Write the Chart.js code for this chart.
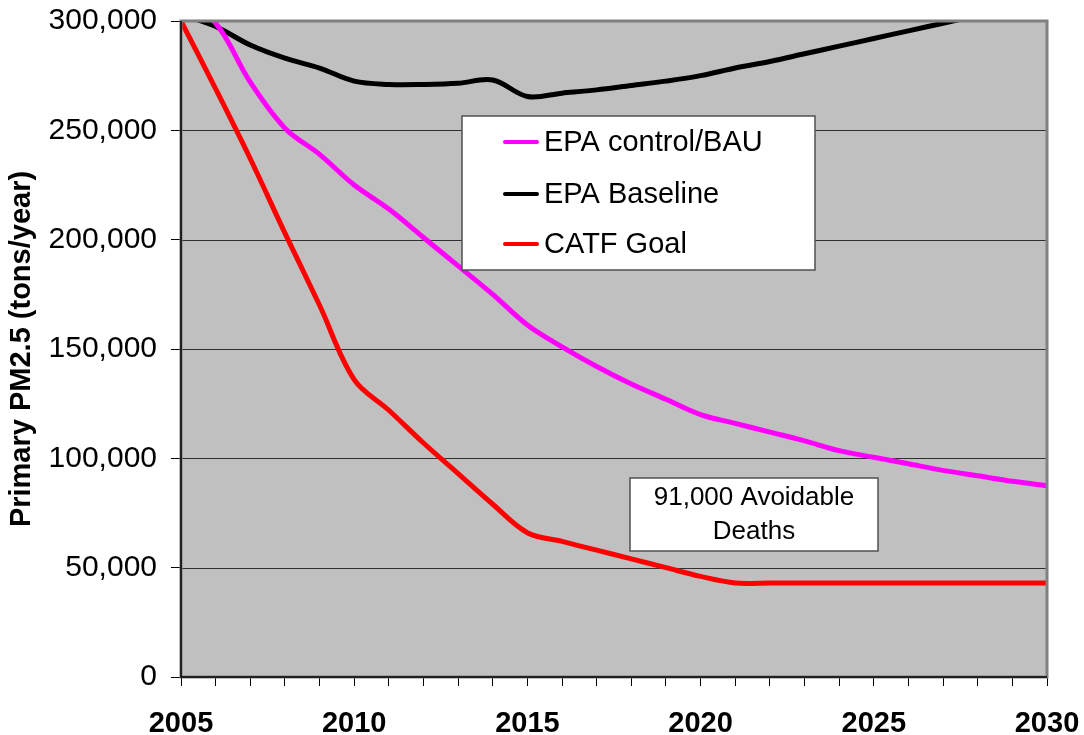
<!DOCTYPE html>
<html lang="en">
<head>
    <meta charset="UTF-8">
    <title>Primary PM2.5</title>
    <script src="https://cdn.jsdelivr.net/npm/chart.js"></script>
    <style>
        body { margin: 0; background: #fff; }
        #chart { display: block; }
    </style>
</head>
<body>
    <canvas id="chart" width="1084" height="735"></canvas>

    <script>
        // years on the x axis
        const years = [2005, 2006, 2007, 2008, 2009, 2010, 2011, 2012, 2013, 2014, 2015, 2016, 2017,
                       2018, 2019, 2020, 2021, 2022, 2023, 2024, 2025, 2026, 2027, 2028, 2029, 2030];

        // tons/year
        const epaControlBau = [310000, 299000, 272000, 251000, 239000, 225000, 214000, 201000, 188000, 175000,
                               161000, 151000, 142000, 134000, 127000, 120000, 116000, 112000, 108000, 103500,
                               100500, 97500, 94500, 92000, 89500, 87500];
        const epaBaseline = [303000, 297500, 289000, 283000, 278500, 272500, 271000, 271000, 271500, 273000,
                             265500, 267000, 268500, 270500, 272500, 275000, 278500, 281500, 285000, 288500,
                             292000, 295500, 299000, 302500, 306000, 309500];
        const catfGoal = [300000, 269000, 237000, 203000, 170000, 136000, 122000, 107000, 93000, 79000,
                          66000, 62000, 58000, 54000, 50000, 46000, 43000, 43000, 43000, 43000,
                          43000, 43000, 43000, 43000, 43000, 43000];

        const seriesNames = ['EPA control/BAU', 'EPA Baseline', 'CATF Goal'];
        const seriesColors = ['#FF00FF', '#000000', '#FF0000'];
        const noteLines = ['91,000 Avoidable', 'Deaths'];

        const font = '"Liberation Sans", Arial, sans-serif';

        function toPoints(values) {
            return values.map((v, i) => ({ x: years[i], y: v }));
        }

        // grey plot area, its frame, the legend box and the text box
        const plotDecor = {
            id: 'plotDecor',
            beforeDatasetsDraw(chart) {
                const { ctx, chartArea: a } = chart;
                ctx.save();
                ctx.fillStyle = '#C0C0C0';
                ctx.fillRect(a.left, a.top, a.right - a.left, a.bottom - a.top);
                // horizontal grid on top of the fill
                const y = chart.scales.y;
                ctx.strokeStyle = '#303030';
                ctx.lineWidth = 1;
                y.ticks.forEach(t => {
                    const py = Math.round(y.getPixelForValue(t.value)) + 0.5;
                    ctx.beginPath();
                    ctx.moveTo(a.left, py);
                    ctx.lineTo(a.right, py);
                    ctx.stroke();
                });
                ctx.restore();
            },
            afterDatasetsDraw(chart) {
                const { ctx, chartArea: a } = chart;
                ctx.save();
                ctx.strokeStyle = '#808080';
                ctx.lineWidth = 3;
                ctx.strokeRect(a.left, a.top, a.right - a.left, a.bottom - a.top);
                ctx.strokeStyle = '#000';
                ctx.lineWidth = 1.5;
                ctx.beginPath();
                ctx.moveTo(a.left, a.top);
                ctx.lineTo(a.left, a.bottom);
                ctx.lineTo(a.right, a.bottom);
                ctx.stroke();

                // legend
                ctx.fillStyle = '#fff';
                ctx.fillRect(462, 116, 353, 154);
                ctx.strokeStyle = '#505050';
                ctx.lineWidth = 1.5;
                ctx.strokeRect(462, 116, 353, 154);
                ctx.font = '29px ' + font;
                ctx.textBaseline = 'middle';
                ctx.textAlign = 'left';
                const rows = [142, 194, 244];
                chart.data.datasets.forEach((ds, i) => {
                    ctx.strokeStyle = ds.borderColor;
                    ctx.lineWidth = 4;
                    ctx.lineCap = 'round';
                    ctx.beginPath();
                    ctx.moveTo(505, rows[i]);
                    ctx.lineTo(537, rows[i]);
                    ctx.stroke();
                    ctx.fillStyle = '#000';
                    ctx.fillText(ds.label, 544, rows[i] + 1);
                });

                // note box
                ctx.lineCap = 'butt';
                ctx.fillStyle = '#fff';
                ctx.fillRect(630, 478, 248, 73);
                ctx.strokeStyle = '#505050';
                ctx.lineWidth = 1.5;
                ctx.strokeRect(630, 478, 248, 73);
                ctx.fillStyle = '#000';
                ctx.font = '26px ' + font;
                ctx.textAlign = 'center';
                ctx.fillText(noteLines[0], 754, 498);
                ctx.fillText(noteLines[1], 754, 532);
                ctx.restore();
            }
        };

        new Chart(document.getElementById('chart'), {
            type: 'line',
            data: {
                datasets: [
                    { label: seriesNames[0], data: toPoints(epaControlBau), borderColor: seriesColors[0] },
                    { label: seriesNames[1], data: toPoints(epaBaseline), borderColor: seriesColors[1] },
                    { label: seriesNames[2], data: toPoints(catfGoal), borderColor: seriesColors[2] }
                ]
            },
            options: {
                responsive: false,
                animation: false,
                layout: { padding: { top: 21, right: 37, left: 0, bottom: 0 } },
                elements: {
                    line: { borderWidth: 5, tension: 0.35, fill: false },
                    point: { radius: 0 }
                },
                plugins: {
                    legend: { display: false },
                    tooltip: { enabled: false }
                },
                scales: {
                    x: {
                        type: 'linear',
                        min: 2005,
                        max: 2030,
                        afterFit(scale) {
                            scale.height = 58;
                            scale.paddingLeft = 0;
                            scale.paddingRight = 0;
                        },
                        border: { display: false },
                        grid: { drawOnChartArea: false, drawTicks: true, tickLength: 9, color: '#000', lineWidth: 1 },
                        ticks: {
                            stepSize: 1,
                            autoSkip: false,
                            maxRotation: 0,
                            padding: 21,
                            color: '#000',
                            font: { family: font, size: 29, weight: 'bold' },
                            callback: v => (v % 5 === 0 ? String(v) : '')
                        }
                    },
                    y: {
                        min: 0,
                        max: 300000,
                        afterFit(scale) {
                            scale.width = 181;
                            scale.paddingTop = 0;
                            scale.paddingBottom = 0;
                        },
                        border: { display: false },
                        grid: { drawOnChartArea: false, drawTicks: true, tickLength: 10, color: '#000', lineWidth: 1 },
                        ticks: {
                            stepSize: 50000,
                            padding: 14,
                            color: '#000',
                            font: { family: font, size: 30 },
                            callback: v => v.toLocaleString('en-US')
                        },
                        title: {
                            display: true,
                            text: 'Primary PM2.5 (tons/year)',
                            color: '#000',
                            font: { family: font, size: 29, weight: 'bold' },
                            padding: { top: 5, bottom: 0 }
                        }
                    }
                }
            },
            plugins: [plotDecor]
        });
    </script>
</body>
</html>
